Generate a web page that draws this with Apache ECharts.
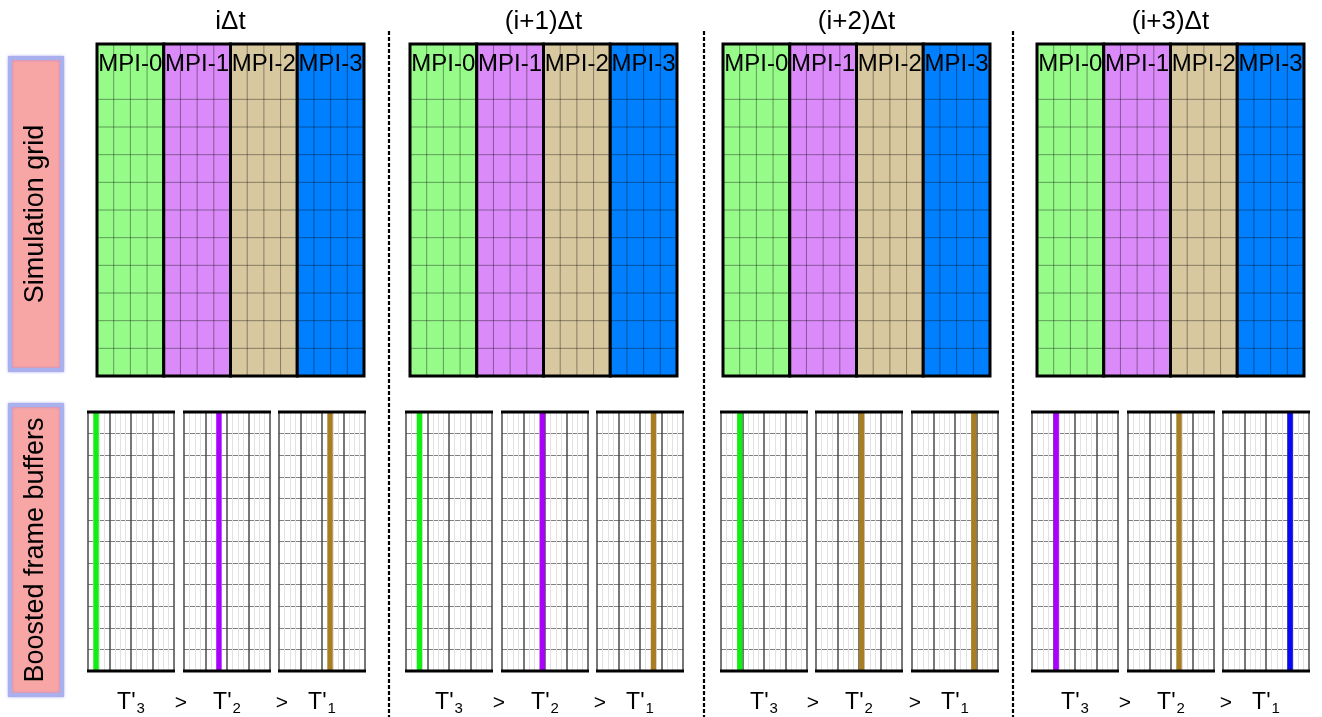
<!DOCTYPE html>
<html><head><meta charset="utf-8">
<script src="https://cdn.jsdelivr.net/npm/echarts@6/dist/echarts.min.js"></script>
<style>html,body{margin:0;padding:0;background:#fff}#c{width:1322px;height:717px}</style>
</head><body><div id="c"></div>
<script>
// ---- data ----
const stepTitles = ['iΔt', '(i+1)Δt', '(i+2)Δt', '(i+3)Δt'];
const mpiRanks = ['MPI-0', 'MPI-1', 'MPI-2', 'MPI-3'];
const cellsPerRank = 4;
const simRows = 12;
const bufferRows = 12;
const bufferCols = 16;
const bufferNames = ['3', '2', '1'];          // T'3 > T'2 > T'1
// highlighted buffer column (0..15) per time step for T'3, T'2, T'1
const bufferColumns = [[1, 6, 9], [2, 7, 10], [3, 8, 11], [4, 9, 12]];
const sideLabels = ['Simulation grid', 'Boosted frame buffers'];

// ---- styles / layout ----
const rankColors = ['#97fb8a', '#db8afa', '#d8c89f', '#0080ff'];
const stripeColors = ['#11ee11', '#aa00ff', '#a97d23', '#0808f2'];
const FONT = '"Liberation Sans", Arial, sans-serif';
const simLeft = [97, 410, 723, 1037], simTop = 44, simW = 267, simH = 332;
const bufLeft = [[88, 184, 279], [406, 502, 597], [721, 816, 912], [1032, 1128, 1223]];
const bufTop = 412, bufW = 86, bufH = 265;
const sepX = [389, 704, 1013];

const chart = echarts.init(document.getElementById('c'), null, {renderer: 'canvas'});
const grid = [], xAxis = [], yAxis = [], series = [], graphic = [];

function renderSim(params, api) {
  const x0 = api.value(0), x1 = api.value(1), k = api.value(2);
  const p0 = api.coord([x0, simRows]), p1 = api.coord([x1, 0]);
  const ch = [{type: 'rect', shape: {x: p0[0], y: p0[1], width: p1[0] - p0[0], height: p1[1] - p0[1]},
    style: {fill: rankColors[k]}}];
  for (let c = x0 + 1; c < x1; c++) {
    const a = api.coord([c, 0]);
    ch.push({type: 'line', shape: {x1: a[0], y1: p0[1], x2: a[0], y2: p1[1]},
      style: {stroke: 'rgba(0,0,0,0.38)', lineWidth: 1}});
  }
  for (let r = 1; r < simRows - 1; r++) {
    const a = api.coord([x0, r]);
    ch.push({type: 'line', shape: {x1: p0[0], y1: a[1], x2: p1[0], y2: a[1]},
      style: {stroke: 'rgba(0,0,0,0.38)', lineWidth: 1}});
  }
  ch.push({type: 'rect', shape: {x: p0[0], y: p0[1], width: p1[0] - p0[0], height: p1[1] - p0[1]},
    style: {fill: null, stroke: '#000', lineWidth: 3}});
  const t = api.coord([(x0 + x1) / 2, simRows - 0.72]);
  ch.push({type: 'text', x: t[0], y: t[1],
    style: {text: mpiRanks[k], align: 'center', verticalAlign: 'middle', font: '24px ' + FONT, fill: '#000'}});
  return {type: 'group', children: ch};
}

function renderBuf(params, api) {
  const col = api.value(0);
  const p0 = api.coord([col, bufferRows]), p1 = api.coord([col + 1, 0]);
  const a = api.coord([0, bufferRows]), b = api.coord([bufferCols, 0]);
  return {type: 'group', children: [
    {type: 'rect', shape: {x: p0[0], y: p0[1], width: p1[0] - p0[0], height: p1[1] - p0[1]},
      style: {fill: stripeColors[Math.floor(col / cellsPerRank)]}},
    {type: 'line', shape: {x1: a[0] - 1, y1: a[1], x2: b[0] + 1, y2: a[1]}, style: {stroke: '#000', lineWidth: 3}},
    {type: 'line', shape: {x1: a[0] - 1, y1: b[1], x2: b[0] + 1, y2: b[1]}, style: {stroke: '#000', lineWidth: 3}}
  ]};
}

stepTitles.forEach((title, s) => {
  // simulation grid
  const gi = grid.length;
  grid.push({left: simLeft[s], top: simTop, width: simW, height: simH});
  xAxis.push({gridIndex: gi, type: 'value', min: 0, max: mpiRanks.length * cellsPerRank, show: false});
  yAxis.push({gridIndex: gi, type: 'value', min: 0, max: simRows, show: false});
  series.push({type: 'custom', xAxisIndex: gi, yAxisIndex: gi, renderItem: renderSim, silent: true,
    data: mpiRanks.map((r, i) => [i * cellsPerRank, (i + 1) * cellsPerRank, i])});
  graphic.push({type: 'text', x: simLeft[s] + simW / 2, y: 22,
    style: {text: title, align: 'center', verticalAlign: 'middle', font: '26px ' + FONT, fill: '#000'}});

  // boosted frame buffers
  bufferColumns[s].forEach((col, j) => {
    const bi = grid.length;
    grid.push({left: bufLeft[s][j], top: bufTop, width: bufW, height: bufH});
    xAxis.push({gridIndex: bi, type: 'value', min: 0, max: bufferCols, interval: 4,
      axisLine: {show: false}, axisTick: {show: false}, axisLabel: {show: false},
      splitLine: {show: true, lineStyle: {color: '#4a4a4a', width: 1.5}},
      minorTick: {show: false, splitNumber: 4},
      minorSplitLine: {show: true, lineStyle: {color: '#e2e2e2', width: 1}},
      name: '{t|T\'}{s|' + bufferNames[j] + '}', nameLocation: 'middle', nameGap: 18,
      nameTextStyle: {rich: {
        t: {fontSize: 23, fontFamily: FONT, color: '#000'},
        s: {fontSize: 15, fontFamily: FONT, color: '#000', padding: [12, 0, 0, 1]}
      }}});
    yAxis.push({gridIndex: bi, type: 'value', min: 0, max: bufferRows, interval: 1,
      axisLine: {show: false}, axisTick: {show: false}, axisLabel: {show: false},
      splitLine: {show: true, lineStyle: {color: '#808080', width: 1}}});
    series.push({type: 'custom', xAxisIndex: bi, yAxisIndex: bi, renderItem: renderBuf, silent: true,
      data: [[col]]});
  });
  // ">" signs between buffers
  [bufLeft[s][1] - 3, bufLeft[s][2] + 3].forEach(x => {
    graphic.push({type: 'text', x: x, y: 703,
      style: {text: '>', align: 'center', verticalAlign: 'middle', font: '21px ' + FONT, fill: '#000'}});
  });
});

// separators
sepX.forEach(x => graphic.push({type: 'line', shape: {x1: x, y1: 31, x2: x, y2: 717},
  style: {stroke: '#000', lineWidth: 2.2, lineDash: [4, 2]}}));

// side labels
[[58, 370], [405, 695]].forEach((r, i) => {
  graphic.push({type: 'rect', shape: {x: 10, y: r[0], width: 52, height: r[1] - r[0]},
    style: {fill: '#f8a5a5', stroke: '#aab0ee', lineWidth: 4, shadowBlur: 3, shadowColor: 'rgba(120,120,230,0.6)'}});
  graphic.push({type: 'text', x: 36, y: (r[0] + r[1]) / 2, rotation: Math.PI / 2,
    style: {text: sideLabels[i], align: 'center', verticalAlign: 'middle', font: '27px ' + FONT, fill: '#000'}});
});

chart.setOption({animation: false, grid, xAxis, yAxis, series, graphic});
</script></body></html>
